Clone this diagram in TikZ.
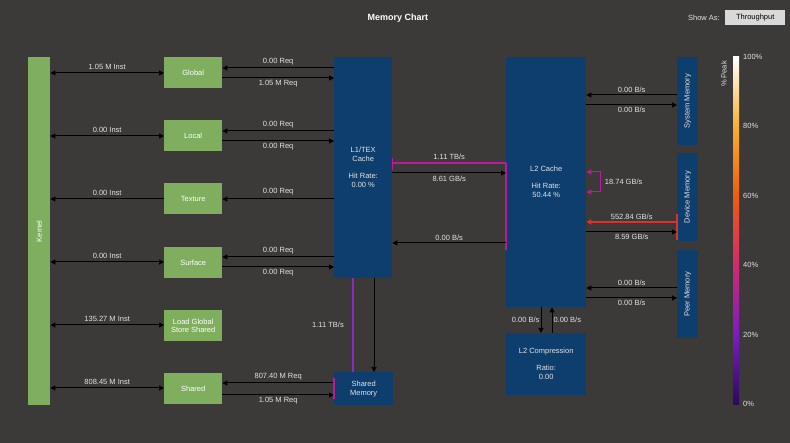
\documentclass[tikz,border=0pt]{standalone}
\usepackage{fontspec}
\setmainfont{Liberation Sans}
\usetikzlibrary{arrows.meta}
\definecolor{bgdark}{HTML}{3B3A39}
\definecolor{unitgreen}{HTML}{7FAE5E}
\definecolor{memblue}{HTML}{0D3E6E}
\definecolor{labelgray}{HTML}{E2E2E2}
\definecolor{linkpink}{HTML}{C0189A}
\definecolor{linkred}{HTML}{E0302A}
\definecolor{linkviolet}{HTML}{8A28C8}
\definecolor{peaklow}{HTML}{2A0A5A}
\definecolor{peakviolet}{HTML}{7A1CC0}
\definecolor{peakmagenta}{HTML}{D02A70}
\definecolor{peakorange}{HTML}{F05A10}
\definecolor{peakyellow}{HTML}{F8B030}
\pgfdeclareverticalshading{peakbar}{100bp}{color(0bp)=(peaklow); color(25bp)=(peaklow); color(35bp)=(peakviolet); color(45bp)=(peakmagenta); color(55bp)=(peakorange); color(65bp)=(peakyellow); color(75bp)=(white); color(100bp)=(white)}
\tikzset{
  unit/.style={draw=none, fill=unitgreen, text=white, font=\fontsize{7.5}{8.5}\selectfont, align=center, anchor=north west},
  memory/.style={fill=memblue, text=labelgray, font=\fontsize{7.5}{9}\selectfont, align=center, anchor=north west},
  rate/.style={text=labelgray, font=\fontsize{7.5}{8.5}\selectfont, inner sep=1pt},
  link/.style={black, line width=1pt},
}
\begin{document}
\begin{tikzpicture}[x=1pt, y=-1pt, >={Triangle[length=5pt,width=5pt]}]
  \fill[bgdark] (0,0) rectangle (790,443);
  \useasboundingbox (0,0) rectangle (790,443);
  \node[text=white, font=\bfseries\fontsize{9}{10}\selectfont] (title) at (398,18) {Memory Chart};
  \node[rate, anchor=east] (showas) at (721,18) {Show As:};
  \node[fill=gray!30, text=black, font=\fontsize{7.5}{8.5}\selectfont, minimum width=60pt, minimum height=15pt, anchor=west] (mode) at (725,18) {Throughput};

  % units
  \node[unit, minimum width=22pt, minimum height=348pt] (kernel) at (28,57) {};
  \node[rotate=90, text=white, font=\fontsize{7.5}{8.5}\selectfont] at (kernel.center) {Kernel};
  \foreach \name/\txt/\y in {global/Global/57, local/Local/120, texture/Texture/183, surface/Surface/247, loadgs/{Load Global\\Store Shared}/310, shared/Shared/373}
    \node[unit, minimum width=58pt, minimum height=31pt] (\name) at (164,\y) {\txt};

  % memories
  \node[memory, minimum width=58pt, minimum height=221pt] (l1) at (334,57) {L1/TEX\\Cache\\[8pt]Hit Rate:\\0.00 \%};
  \node[memory, minimum width=59pt, minimum height=33pt] (smem) at (334,372) {Shared\\Memory};
  \node[memory, minimum width=80pt, minimum height=250pt] (l2) at (506,57) {L2 Cache\\[8pt]Hit Rate:\\50.44 \%};
  \node[memory, minimum width=80pt, minimum height=62pt] (l2c) at (506,333) {L2 Compression\\[8pt]Ratio:\\0.00};
  \foreach \name/\txt/\y in {sysmem/System Memory/57, devmem/Device Memory/153, peermem/Peer Memory/250}{
    \node[memory, minimum width=21pt, minimum height=88pt] (\name) at (677,\y) {};
    \node[rotate=90, text=labelgray, font=\fontsize{7.5}{8.5}\selectfont] at (\name.center) {\txt};
  }

  % kernel to units
  \draw[link, <->] (kernel.east |- 0,73) -- (global.west |- 0,73) node[rate, midway, above=2pt] {1.05 M Inst};
  \draw[link, <->] (kernel.east |- 0,136) -- (local.west |- 0,136) node[rate, midway, above=2pt] {0.00 Inst};
  \draw[link, ->] (texture.west |- 0,199) -- (kernel.east |- 0,199) node[rate, midway, above=2pt] {0.00 Inst};
  \draw[link, <->] (kernel.east |- 0,262) -- (surface.west |- 0,262) node[rate, midway, above=2pt] {0.00 Inst};
  \draw[link, <->] (kernel.east |- 0,325) -- (loadgs.west |- 0,325) node[rate, midway, above=2pt] {135.27 M Inst};
  \draw[link, <->] (kernel.east |- 0,388) -- (shared.west |- 0,388) node[rate, midway, above=2pt] {808.45 M Inst};

  % units to L1
  \foreach \name/\ya/\yb/\ra/\rb in {global/68/78/0.00 Req/1.05 M Req, local/131/141/0.00 Req/0.00 Req, surface/257/267/0.00 Req/0.00 Req}{
    \draw[link, ->] (l1.west |- 0,\ya) -- (\name.east |- 0,\ya) node[rate, midway, above=1pt] {\ra};
    \draw[link, ->] (\name.east |- 0,\yb) -- (l1.west |- 0,\yb) node[rate, midway, below=1pt] {\rb};
  }
  \draw[link, ->] (l1.west |- 0,199) -- (texture.east |- 0,199) node[rate, midway, above=2pt] {0.00 Req};
  \draw[link, ->] (smem.west |- 0,383) -- (shared.east |- 0,383) node[rate, midway, above=1pt] {807.40 M Req};
  \draw[link, ->] (shared.east |- 0,395) -- (smem.west |- 0,395) node[rate, midway, below=1pt] {1.05 M Req};
  \draw[linkpink, line width=2pt] (smem.west |- 0,378) -- (smem.west |- 0,399);

  % L1 to shared memory
  \draw[linkviolet, line width=1.2pt] (l1.south -| 353,0) -- (smem.north -| 353,0);
  \node[rate] (smrate) at (328,325) {1.11 TB/s};
  \draw[link, ->] (l1.south -| 374,0) -- (smem.north -| 374,0);

  % L1 to L2
  \draw[linkpink, line width=1.2pt] (l1.east |- 0,158) -- (l1.east |- 0,170);
  \draw[linkpink, line width=1.2pt] (l1.east |- 0,163) -- (l2.west |- 0,163) node[rate, midway, above=2pt] {1.11 TB/s};
  \draw[linkpink, line width=1.5pt] (l2.west |- 0,163) -- (l2.west |- 0,250);
  \draw[link, ->] (l1.east |- 0,173) -- (l2.west |- 0,173) node[rate, midway, below=2pt] {8.61 GB/s};
  \draw[link, ->] (l2.west |- 0,243) -- (l1.east |- 0,243) node[rate, midway, above=1pt] {0.00 B/s};

  % L2 to compression
  \draw[link, ->] (l2.south -| 541,0) -- (l2c.north -| 541,0) node[rate, midway, left] {0.00 B/s};
  \draw[link, ->] (l2c.north -| 552,0) -- (l2.south -| 552,0) node[rate, midway, right] {0.00 B/s};

  % L2 to memories
  \draw[link, ->] (sysmem.west |- 0,95) -- (l2.east |- 0,95) node[rate, midway, above=1pt] {0.00 B/s};
  \draw[link, ->] (l2.east |- 0,105) -- (sysmem.west |- 0,105) node[rate, midway, below=1pt] {0.00 B/s};
  \draw[linkpink, line width=1pt, <->] (l2.east |- 0,172) -- ++(14,0) -- ++(0,20) node[rate, midway, right=3pt] {18.74 GB/s} -- ++(-14,0);
  \draw[linkred, line width=1.2pt, ->] (devmem.west |- 0,222) -- (l2.east |- 0,222) node[rate, midway, above=1pt] {552.84 GB/s};
  \draw[linkred, line width=2pt] (devmem.west |- 0,214) -- (devmem.west |- 0,240);
  \draw[link, ->] (l2.east |- 0,232) -- (devmem.west |- 0,232) node[rate, midway, below=1pt] {8.59 GB/s};
  \draw[link, ->] (peermem.west |- 0,288) -- (l2.east |- 0,288) node[rate, midway, above=1pt] {0.00 B/s};
  \draw[link, ->] (l2.east |- 0,298) -- (peermem.west |- 0,298) node[rate, midway, below=1pt] {0.00 B/s};

  % peak scale
  \shade[shading=peakbar] (733,57) rectangle (739,405);
  \foreach \p/\y in {100/57, 80/126, 60/196, 40/265, 20/335, 0/404}
    \node[rate, anchor=west] at (742,\y) {\p\%};
  \node[rate, rotate=90] (peak) at (724,74) {\% Peak};
\end{tikzpicture}
\end{document}
